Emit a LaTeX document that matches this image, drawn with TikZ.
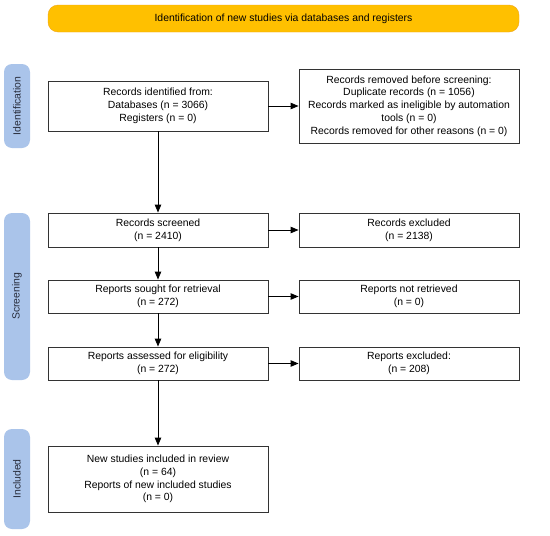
\documentclass[tikz,border=0pt]{standalone}
\usepackage{fontspec}
\setmainfont{Liberation Sans}
\usetikzlibrary{arrows.meta}
\definecolor{banner}{RGB}{255,192,0}
\definecolor{bannerEdge}{RGB}{240,165,20}
\definecolor{side}{RGB}{170,196,234}
\definecolor{sidetext}{RGB}{40,45,60}
\begin{document}
\begin{tikzpicture}[x=1pt,y=-1pt,
  box/.style={draw=black!80, line width=0.9pt, fill=white, align=center, inner sep=0pt,
    font=\fontsize{10.4}{12.7}\selectfont},
  sidelab/.style={fill=side, rounded corners=8pt, inner sep=0pt},
  sidetxt/.style={rotate=90, text=sidetext, font=\fontsize{10.4}{12}\selectfont},
  arr/.style={-{Triangle[length=8pt,width=6.5pt]}, line width=0.9pt}]
\useasboundingbox (0,0) rectangle (550,536);
\fill[white] (0,0) rectangle (550,536);
% banner
\node[draw=bannerEdge, fill=banner, rounded corners=10pt, minimum width=471pt, minimum height=27pt,
  inner sep=0pt, font=\fontsize{10.4}{12}\selectfont] (ban) at (283.5,18.5)
  {Identification of new studies via databases and registers};
% side labels
\node[sidelab, minimum width=26pt, minimum height=84pt] (sid) at (17,106) {};
\node[sidetxt] (sidt) at (sid.center) {Identification};
\node[sidelab, minimum width=26pt, minimum height=167pt] (sscr) at (17,296.5) {};
\node[sidetxt] (sscrt) at (sscr.center) {Screening};
\node[sidelab, minimum width=26pt, minimum height=100pt] (sinc) at (17,479) {};
\node[sidetxt] (sinct) at (sinc.center) {Included};
% left column
\node[box, minimum width=220pt, minimum height=50pt] (ident) at (158,106)
  {Records identified from:\\Databases (n = 3066)\\Registers (n = 0)};
\node[box, minimum width=220pt, minimum height=34pt] (scr) at (158,230)
  {Records screened\\(n = 2410)};
\node[box, minimum width=220pt, minimum height=33pt] (sought) at (158,296.5)
  {Reports sought for retrieval\\(n = 272)};
\node[box, minimum width=220pt, minimum height=33pt] (assess) at (158,363.5)
  {Reports assessed for eligibility\\(n = 272)};
\node[box, minimum width=220pt, minimum height=66pt] (incl) at (158,479)
  {New studies included in review\\(n = 64)\\Reports of new included studies\\(n = 0)};
% right column
\node[box, minimum width=220pt, minimum height=74pt] (removed) at (409,106)
  {Records removed before screening:\\Duplicate records (n = 1056)\\Records marked as ineligible by automation\\tools (n = 0)\\Records removed for other reasons (n = 0)};
\node[box, minimum width=220pt, minimum height=34pt] (excl) at (409,230)
  {Records excluded\\(n = 2138)};
\node[box, minimum width=220pt, minimum height=33pt] (notret) at (409,296.5)
  {Reports not retrieved\\(n = 0)};
\node[box, minimum width=220pt, minimum height=33pt] (rexcl) at (409,363.5)
  {Reports excluded:\\(n = 208)};
% arrows
\draw[arr] (ident) -- (removed);
\draw[arr] (ident) -- (scr);
\draw[arr] (scr) -- (excl);
\draw[arr] (scr) -- (sought);
\draw[arr] (sought) -- (notret);
\draw[arr] (sought) -- (assess);
\draw[arr] (assess) -- (rexcl);
\draw[arr] (assess) -- (incl);
\end{tikzpicture}
\end{document}
